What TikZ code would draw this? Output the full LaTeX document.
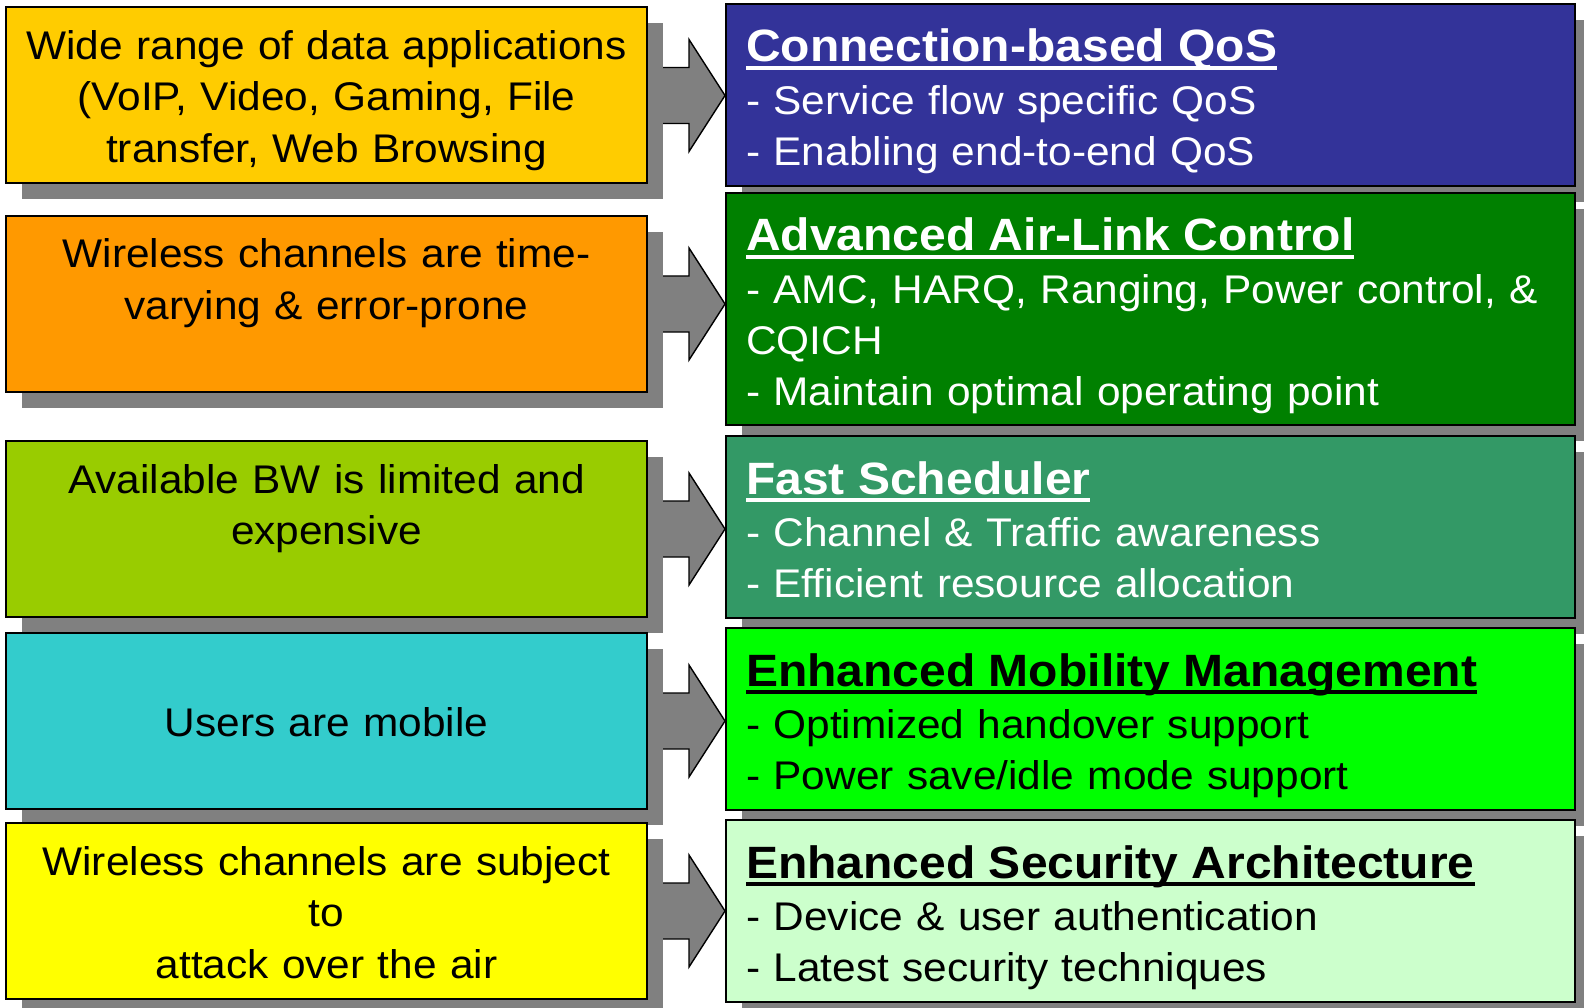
\documentclass[tikz,border=0pt]{standalone}
\usepackage{fontspec}
\setmainfont{Liberation Sans}[FakeStretch=1.06]
\usetikzlibrary{calc,backgrounds,shadows}
\definecolor{wgold}{HTML}{FFCC00}
\definecolor{worange}{HTML}{FF9900}
\definecolor{wolive}{HTML}{99CC00}
\definecolor{wteal}{HTML}{33CCCC}
\definecolor{wyellow}{HTML}{FFFF00}
\definecolor{wnavy}{HTML}{333399}
\definecolor{wgreen}{HTML}{008000}
\definecolor{wsea}{HTML}{339966}
\definecolor{wlime}{HTML}{00FF00}
\definecolor{wmint}{HTML}{CCFFCC}
\definecolor{wshadow}{HTML}{808080}
\newcommand\ttl[1]{\sbox0{\fontsize{45.3}{51}\selectfont\bfseries #1}%
  \rlap{\rule[-8pt]{\wd0}{4pt}}\usebox0}
\newcommand\blockarrow[2]{%
  \draw[blk] let \p1=(#1.east), \p2=(#2.west) in
    (\x1,\y1+28pt) -- (\x2-36pt,\y1+28pt) -- (\x2-36pt,\y1+56pt) -- (\x2,\y1)
    -- (\x2-36pt,\y1-56pt) -- (\x2-36pt,\y1-28pt) -- (\x1,\y1-28pt) -- cycle;}
\tikzset{
  % rutor
  shade16/.style={drop shadow={shadow xshift=16pt,shadow yshift=-16pt,
                  fill=wshadow,opacity=1}},
  lb/.style={draw=black,line width=2pt,inner sep=0pt,minimum width=641pt,
             minimum height=176pt,shade16},
  rb/.style={draw=black,line width=2pt,inner sep=0pt,minimum width=849pt,
             minimum height=182pt,shade16},
  % texter
  lt/.style={text width=630pt,align=center,inner sep=0pt,anchor=base,
             font=\fontsize{40}{51.5}\selectfont},
  rt/.style={text width=820pt,align=left,inner sep=0pt,anchor=base west,
             font=\fontsize{40}{51}\selectfont},
  % pilar
  blk/.style={draw=black,line width=1.4pt,fill=wshadow},
}
\begin{document}
\begin{tikzpicture}[x=1pt,y=-1pt]
\useasboundingbox (0,0) rectangle (1584,1008);
  \node[lb,fill=wgold]   (l1) at (326.5,95.5) {};
  \node[lb,fill=worange] (l2) at (326.5,304) {};
  \node[lb,fill=wolive]  (l3) at (326.5,529) {};
  \node[lb,fill=wteal]   (l4) at (326.5,721) {};
  \node[lb,fill=wyellow] (l5) at (326.5,911) {};
  \node[rb,fill=wnavy]   (r1) at (1150.5,95) {};
  \node[rb,fill=wgreen,minimum height=232pt] (r2) at (1150.5,309) {};
  \node[rb,fill=wsea]    (r3) at (1150.5,527) {};
  \node[rb,fill=wlime]   (r4) at (1150.5,719) {};
  \node[rb,fill=wmint]   (r5) at (1150.5,911) {};
  \node[lt] (t1) at ($(l1.north)+(0,53)$) {Wide range of data applications\\
    (VoIP, Video, Gaming, File\\ transfer, Web Browsing};
  \node[lt] (t2) at ($(l2.north)+(0,53)$) {Wireless channels are time-\\
    varying \& error-prone};
  \node[lt] (t3) at ($(l3.north)+(0,53)$) {Available BW is limited and\\ expensive};
  \node[lt] (t4) at ($(l4.center)+(0,15)$) {Users are mobile};
  \node[lt] (t5) at ($(l5.north)+(0,53)$) {Wireless channels are subject\\ to\\
    attack over the air};
  \node[rt,text=white] (s1) at ($(r1.north west)+(21,59)$) {\ttl{Connection-based QoS}\\[1.5pt]
    - Service flow specific QoS\\ - Enabling end-to-end QoS};
  \node[rt,text=white] (s2) at ($(r2.north west)+(21,59)$) {\ttl{Advanced Air-Link Control}\\[1.5pt]
    - AMC, HARQ, Ranging, Power control, \&\\ CQICH\\
    - Maintain optimal operating point};
  \node[rt,text=white] (s3) at ($(r3.north west)+(21,59)$) {\ttl{Fast Scheduler}\\[1.5pt]
    - Channel \& Traffic awareness\\ - Efficient resource allocation};
  \node[rt] (s4) at ($(r4.north west)+(21,59)$) {\ttl{Enhanced Mobility Management}\\[1.5pt]
    - Optimized handover support\\ - Power save/idle mode support};
  \node[rt] (s5) at ($(r5.north west)+(21,59)$) {\ttl{Enhanced Security Architecture}\\[1.5pt]
    - Device \& user authentication\\ - Latest security techniques};
  \begin{pgfonlayer}{background}
    \blockarrow{l1}{r1}
    \blockarrow{l2}{r2}
    \blockarrow{l3}{r3}
    \blockarrow{l4}{r4}
    \blockarrow{l5}{r5}
  \end{pgfonlayer}
\end{tikzpicture}
\end{document}
